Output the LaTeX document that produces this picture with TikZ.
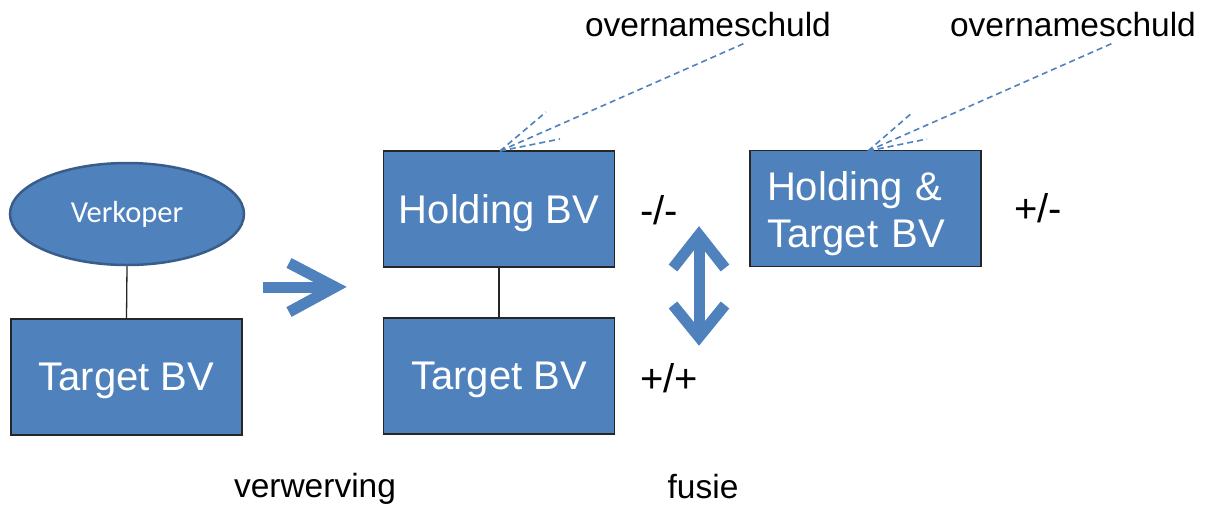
\documentclass[tikz,border=0pt]{standalone}
\usepackage{fontspec}
\setmainfont{Liberation Sans}
\newfontfamily\calibrifont{Carlito}
\usetikzlibrary{shapes.geometric}
\definecolor{boxblue}{HTML}{4F81BD}
\definecolor{edgeblue}{HTML}{385D8A}
\tikzset{
  bvbox/.style={draw=black!85, line width=1.2pt, fill=boxblue, text=white,
    minimum width=231pt, minimum height=116pt, inner sep=0pt, text depth=0pt,
    font=\fontsize{40}{47}\selectfont},
  label/.style={text=black, inner sep=0pt, font=\fontsize{40}{47}\selectfont},
  caption/.style={text=black, inner sep=0pt, font=\fontsize{33.5}{40}\selectfont},
  link/.style={draw=black!85, line width=1.3pt},
  debt/.style={draw=boxblue, line width=1.6pt, dash pattern=on 6pt off 4pt},
  fat/.style={draw=boxblue, line width=11pt, line join=miter},
}
\begin{document}
\begin{tikzpicture}[x=1pt,y=-1pt]
\useasboundingbox (0,0) rectangle (1208,504);

% seller and target before the acquisition
\node[ellipse, draw=edgeblue, line width=2.5pt, fill=boxblue, text=white,
  minimum width=234pt, minimum height=102pt, inner sep=0pt,
  font=\calibrifont\fontsize{30.5}{36}\selectfont] (seller) at (127,214) {Verkoper};
\node[bvbox] (target1) at (126.5,377) {Target BV};
\draw[link] (seller.south) -- (target1.north);

% acquisition arrow
\coordinate (acqA) at (263,287);
\coordinate (acqB) at (335,287);
\coordinate (acqU) at (289,263);
\coordinate (acqL) at (289,312);
\draw[fat] (acqA) -- (acqB);
\draw[fat] (acqU) -- (acqB) -- (acqL);

% holding structure
\node[bvbox] (holding) at (499,209) {Holding BV};
\node[bvbox] (target2) at (499,376) {Target BV};
\draw[link] (holding.south) -- (target2.north);

\node[label] (hsign) at (659,210) {-/-};
\node[label] (tsign) at (669,378) {+/+};

% merger arrow
\coordinate (mTop) at (699,235);
\coordinate (mBot) at (699,337);
\draw[fat] (mTop) -- (mBot);
\draw[fat] (673,268) -- (mTop) -- (725,268);
\draw[fat] (673,305) -- (mBot) -- (725,305);

% merged company
\node[bvbox] (merged) at (865.5,208.5) {};
\node[text=white, inner sep=0pt, align=left, text width=197pt,
  font=\fontsize{40}{47}\selectfont] (mergedtext) at ([yshift=-5pt]merged.center)
  {Holding \&\\Target BV};
\node[label] (msign) at (1038,208) {+/-};

% acquisition debt
\node[caption] (debt1) at (708,25) {overnameschuld};
\node[caption] (debt2) at (1073,25) {overnameschuld};

\coordinate (h1) at (500,151);
\coordinate (h1a) at (546,112);
\coordinate (h1b) at (560,139);
\coordinate (h1c) at (745,43);
\draw[debt] (h1) -- (h1a);
\draw[debt] (h1) -- (h1b);
\draw[debt] (h1) -- (h1c);

\coordinate (h2) at (868,151);
\coordinate (h2a) at (913,112);
\coordinate (h2b) at (927,139);
\coordinate (h2c) at (1113,43);
\draw[debt] (h2) -- (h2a);
\draw[debt] (h2) -- (h2b);
\draw[debt] (h2) -- (h2c);

% step captions
\node[caption] (acq) at (315,489) {verwerving};
\node[caption] (merge) at (703,487) {fusie};
\end{tikzpicture}
\end{document}
